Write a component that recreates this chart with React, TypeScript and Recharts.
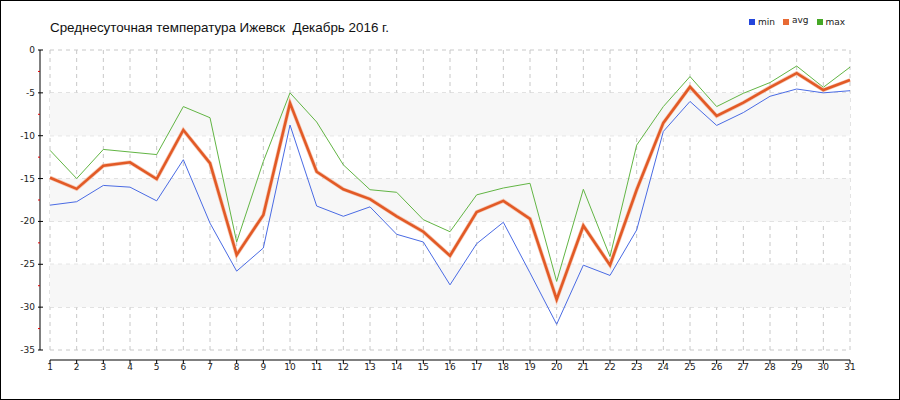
import React from 'react';
import { LineChart, Line, XAxis, YAxis, CartesianGrid, ReferenceArea } from 'recharts';

const title = 'Среднесуточная температура Ижевск  Декабрь 2016 г.';
const days = [1,2,3,4,5,6,7,8,9,10,11,12,13,14,15,16,17,18,19,20,21,22,23,24,25,26,27,28,29,30,31];
const minTemps = [-18.1,-17.7,-15.8,-16.0,-17.6,-12.8,-20.2,-25.8,-23.1,-8.75,-18.2,-19.4,-18.3,-21.5,-22.4,-27.4,-22.6,-20.1,-26.0,-32.0,-25.1,-26.3,-21.0,-9.5,-6.0,-8.8,-7.3,-5.4,-4.55,-5.0,-4.75];
const avgTemps = [-14.9,-16.2,-13.5,-13.1,-15.05,-9.33,-13.2,-23.9,-19.25,-6.2,-14.2,-16.25,-17.4,-19.4,-21.2,-24.0,-18.9,-17.6,-19.7,-29.1,-20.5,-25.1,-16.3,-8.5,-4.3,-7.7,-6.15,-4.35,-2.7,-4.67,-3.5];
const maxTemps = [-11.7,-15.0,-11.6,-11.9,-12.2,-6.6,-7.9,-22.4,-13.0,-5.0,-8.4,-13.4,-16.3,-16.6,-19.8,-21.2,-16.9,-16.1,-15.55,-27.0,-16.25,-24.1,-11.1,-6.6,-3.1,-6.6,-5.05,-3.8,-1.87,-4.35,-2.0];
const yTicks = [0,-2.5,-5,-7.5,-10,-12.5,-15,-17.5,-20,-22.5,-25,-27.5,-30,-32.5,-35];
const yMajor = [0,-5,-10,-15,-20,-25,-30,-35];
const bands: [number, number][] = [[-5,-10],[-15,-20],[-25,-30]];
const legendItems = [
  { name: 'min', color: '#2446dc' },
  { name: 'avg', color: '#e86a34' },
  { name: 'max', color: '#46a826' },
];

const data = days.map((d, i) => ({ day: d, min: minTemps[i], avg: avgTemps[i], max: maxTemps[i] }));

const FONT = '"DejaVu Sans", Tahoma, sans-serif';

const YTick = (props: any) => {
  const { x, y, payload } = props;
  const v = payload.value;
  const major = Math.abs(v % 5) < 1e-6;
  if (!major) {
    return <line x1={x - 12} x2={x - 10} y1={y} y2={y} stroke="#e00000" />;
  }
  return (
    <g>
      <line x1={x - 12} x2={x - 7} y1={y} y2={y} stroke="#000" />
      <text x={x - 15} y={y} dy={3} textAnchor="end" fontSize={9} fontFamily={FONT} fill="#222">{v}</text>
    </g>
  );
};

const XTick = (props: any) => {
  const { x, y, payload } = props;
  return (
    <g>
      <line x1={x} x2={x} y1={y + 10} y2={y + 14} stroke="#000" />
      <text x={x} y={y + 20} textAnchor="middle" fontSize={9} fontFamily={FONT} fill="#222">{payload.value}</text>
    </g>
  );
};

const LegendBox = () => (
  <div style={{ position: 'absolute', left: 749, top: 17, display: 'flex', alignItems: 'center', fontFamily: FONT, fontSize: 9, color: '#222' }}>
    {legendItems.map((it) => (
      <div key={it.name} style={{ display: 'flex', alignItems: 'center', marginRight: 8 }}>
        <span style={{ display: 'inline-block', width: 6, height: 6, background: it.color, marginRight: 3 }} />
        <span style={{ position: 'relative', top: it.name === 'avg' ? -2 : 0 }}>{it.name}</span>
      </div>
    ))}
  </div>
);

export default function App() {
  return (
    <div style={{ position: 'absolute', left: 0, top: 0, width: 900, height: 400, background: '#fff' }}>
      <div style={{ position: 'absolute', left: 50, top: 20, fontFamily: '"Liberation Sans", Arial, sans-serif', fontSize: 13.4, color: '#111', whiteSpace: 'pre' }}>{title}</div>
      <LegendBox />
      <LineChart width={900} height={400} data={data} margin={{ top: 50, right: 50, left: 10, bottom: 20 }}>
        {bands.map(([a, b]) => (
          <ReferenceArea key={a} y1={a} y2={b} fill="#f7f7f7" fillOpacity={1} stroke="none" ifOverflow="visible" />
        ))}
        <CartesianGrid stroke="#c8c8c8" strokeDasharray="4 4" horizontalValues={yMajor} />
        <XAxis dataKey="day" height={30} interval={0} tickSize={0} tickMargin={0} tickLine={false}
          axisLine={{ stroke: '#000', transform: 'translate(0,10)' } as any} tick={<XTick />} />
        <YAxis domain={[-35, 0]} ticks={yTicks} width={40} interval={0} tickSize={0} tickMargin={0} tickLine={false}
          axisLine={{ stroke: '#000', transform: 'translate(-10,0)' } as any} tick={<YTick />} allowDataOverflow />
        <Line dataKey="max" stroke="#62b544" strokeWidth={1} dot={false} isAnimationActive={false} />
        <Line dataKey="min" stroke="#4a6be4" strokeWidth={1} dot={false} isAnimationActive={false} />
        <Line dataKey="avg" stroke="#f6c9b5" strokeWidth={4} dot={false} isAnimationActive={false} />
        <Line dataKey="avg" stroke="#e25a26" strokeWidth={2.6} dot={false} isAnimationActive={false} />
      </LineChart>
      <div style={{ position: 'absolute', left: 0, top: 0, width: 900, height: 400, boxSizing: 'border-box', border: '1px solid #000', pointerEvents: 'none' }} />
    </div>
  );
}
